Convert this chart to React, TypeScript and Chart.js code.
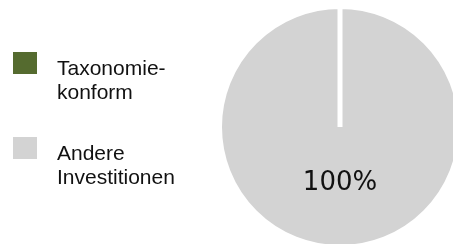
import React, { useEffect, useRef } from 'react';
import { Chart, ArcElement, PieController } from 'chart.js';

Chart.register(ArcElement, PieController);

// ---- data ----
const categories: string[][] = [
  ['Taxonomie-', 'konform'],
  ['Andere', 'Investitionen'],
];
const shares: number[] = [0, 100];
const sliceColors: string[] = ['#556B2F', '#D3D3D3'];

const legendPlugin = {
  id: 'sideLegend',
  afterDraw(chart: any) {
    const ctx = chart.ctx as CanvasRenderingContext2D;
    ctx.save();
    ctx.font = '21px "Liberation Sans", Arial, sans-serif';
    ctx.textBaseline = 'alphabetic';
    ctx.textAlign = 'left';
    categories.forEach((lines, i) => {
      const top = 52 + i * 85;
      ctx.fillStyle = sliceColors[i];
      ctx.fillRect(13, top, 24, 22);
      ctx.fillStyle = '#111';
      lines.forEach((ln, j) => {
        ctx.fillText(ln, 57, top + 23 + j * 23.5);
      });
    });
    ctx.restore();
  },
};

const pctPlugin = {
  id: 'pctLabels',
  afterDatasetsDraw(chart: any) {
    const ctx = chart.ctx as CanvasRenderingContext2D;
    const meta = chart.getDatasetMeta(0);
    const total = shares.reduce((a, b) => a + b, 0);
    ctx.save();
    ctx.font = '26px "DejaVu Sans", sans-serif';
    ctx.fillStyle = '#111';
    ctx.textAlign = 'center';
    ctx.textBaseline = 'middle';
    meta.data.forEach((arc: any, i: number) => {
      const v = shares[i];
      if (!v) return;
      const { x, y, startAngle, endAngle, outerRadius } = arc.getProps(
        ['x', 'y', 'startAngle', 'endAngle', 'outerRadius'],
        true
      );
      const mid = (startAngle + endAngle) / 2;
      const r = outerRadius * 0.465;
      const pct = Math.round((v / total) * 100) + '%';
      ctx.fillText(pct, x + Math.cos(mid) * r, y + Math.sin(mid) * r);
    });
    ctx.restore();
  },
};

export default function App() {
  const ref = useRef<HTMLCanvasElement | null>(null);
  useEffect(() => {
    document.body.style.margin = '0';
    document.body.style.overflow = 'hidden';
    if (!ref.current) return;
    const chart = new Chart(ref.current, {
      type: 'pie',
      data: {
        labels: categories.map((c) => c.join(' ')),
        datasets: [
          {
            data: shares,
            backgroundColor: sliceColors,
            borderColor: '#ffffff',
            borderWidth: 5,
          },
        ],
      },
      options: {
        animation: false,
        responsive: true,
        maintainAspectRatio: false,
        devicePixelRatio: 1,
        events: [],
        layout: { padding: { left: 217, top: 4, right: 7, bottom: 6 } },
        plugins: { legend: { display: false }, tooltip: { enabled: false } } as any,
      },
      plugins: [legendPlugin, pctPlugin],
    });
    return () => chart.destroy();
  }, []);
  return (
    <div style={{ width: 470, height: 256, position: 'relative' }}>
      <canvas ref={ref} />
    </div>
  );
}
